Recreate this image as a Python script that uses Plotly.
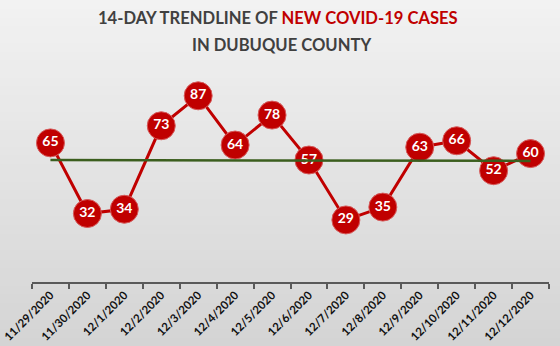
import numpy as np
import plotly.graph_objects as go

dates = ["11/29/2020", "11/30/2020", "12/1/2020", "12/2/2020", "12/3/2020", "12/4/2020",
         "12/5/2020", "12/6/2020", "12/7/2020", "12/8/2020", "12/9/2020", "12/10/2020",
         "12/11/2020", "12/12/2020"]
cases = [65, 32, 34, 73, 87, 64, 78, 57, 29, 35, 63, 66, 52, 60]

W, H = 560, 346
L, R, T, B = 32, 11, 68, 64
pw, ph = W - L - R, H - T - B

def py(p):
    return (H - B - p) / ph

# linear trendline from data
xi = np.arange(len(cases))
slope, intercept = np.polyfit(xi, cases, 1)
trend = list(slope * xi + intercept)

fig = go.Figure()
fig.add_trace(go.Scatter(
    x=dates, y=cases, mode="lines+markers+text",
    line=dict(color="#C00000", width=3),
    marker=dict(size=28, color="#C00000", line=dict(color="#d65a5a", width=1)),
    text=[str(v) for v in cases], textposition="middle center",
    textfont=dict(family="Lato", size=14, color="white", weight="bold"),
    cliponaxis=False, showlegend=False, hoverinfo="skip"))
fig.add_trace(go.Scatter(
    x=dates, y=trend, mode="lines",
    line=dict(color="#3B5E1E", width=2.5),
    cliponaxis=False, showlegend=False, hoverinfo="skip"))

# background gradient (vertical bands)
shapes = []
n = 40
for i in range(n):
    y0px = H * i / n
    y1px = H * (i + 1) / n + 1
    f = (i + 0.5) / n
    c = int(round(242 - f * (242 - 212)))
    shapes.append(dict(type="rect", xref="paper", yref="paper", layer="below",
                       x0=-L / pw, x1=1 + R / pw,
                       y0=py(y1px), y1=py(y0px),
                       fillcolor=f"rgb({c},{c},{c})", line=dict(width=0)))

annotations = [
    dict(text="<b>14-DAY TRENDLINE OF <span style='color:#C00000'>NEW COVID-19 CASES</span></b>",
         xref="paper", yref="paper", x=(278 - L) / pw, y=py(18), xanchor="center", yanchor="middle",
         showarrow=False, font=dict(family="Lato", size=16.6, color="#404040")),
    dict(text="<b>IN DUBUQUE COUNTY</b>",
         xref="paper", yref="paper", x=(281 - L) / pw, y=py(45), xanchor="center", yanchor="middle",
         showarrow=False, font=dict(family="Lato", size=16.6, color="#404040")),
]

fig.update_layout(
    width=W, height=H, autosize=False,
    margin=dict(l=L, r=R, t=T, b=B),
    paper_bgcolor="#e4e4e4", plot_bgcolor="rgba(0,0,0,0)",
    shapes=shapes, annotations=annotations,
    xaxis=dict(type="category", range=[-0.5, len(dates) - 0.5],
               showgrid=False, zeroline=False, automargin=False,
               showline=True, linecolor="#595959", linewidth=2,
               ticks="outside", ticklen=5, tickwidth=2, tickcolor="#595959",
               tickson="boundaries", tickangle=-45,
               tickfont=dict(family="Lato", size=11.5, color="#111111", weight="bold")),
    yaxis=dict(range=[0, 100], visible=False, automargin=False),
)

fig.write_html("out.html")
